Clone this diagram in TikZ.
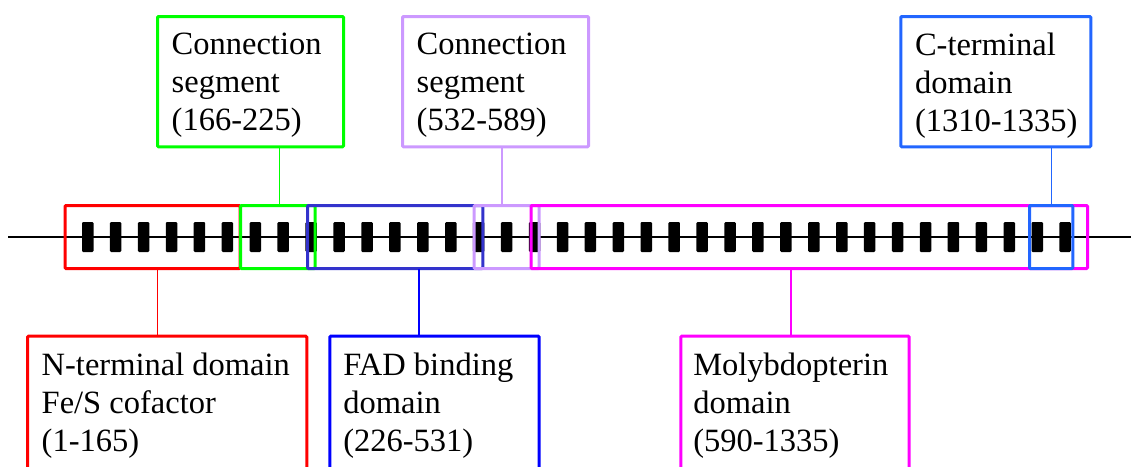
\documentclass[tikz,border=0pt]{standalone}
\usepackage{fontspec}
\setmainfont{Liberation Serif}
\definecolor{redc}{HTML}{FF0000}
\definecolor{greenc}{HTML}{00FF00}
\definecolor{barblue}{HTML}{3333CC}
\definecolor{fadblue}{HTML}{0000FF}
\definecolor{lavc}{HTML}{CC99FF}
\definecolor{magc}{HTML}{FF00FF}
\definecolor{cblue}{HTML}{2266FF}
\begin{document}
\begin{tikzpicture}[x=1pt,y=1pt,
  box/.style={draw, line width=3pt, rectangle, inner sep=0pt, outer sep=0pt, rounded corners=1pt},
  txt/.style={font=\fontsize{32.5}{38}\selectfont, align=left, inner sep=0pt, outer sep=0pt, anchor=north west},
  conn/.style={line width=1.2pt},
  tickbar/.style={fill=black, rounded corners=1.2pt}]
\useasboundingbox (0,0) rectangle (1131,-466);
\clip (0,0) rectangle (1131,-466);
% main line
\coordinate (L) at (8,-237);
\coordinate (R) at (1131,-237);
\draw[line width=1.5pt] (L) -- (R);
% ticks
\foreach \k in {0,...,35}
  \fill[tickbar] ({82+27.926*\k},-222) rectangle ++(11.5,-30);
% boxes on the bar
\node[box, draw=redc, minimum width=175pt, minimum height=63pt] (rbar) at (152.5,-237) {};
\node[box, draw=greenc, minimum width=74.5pt, minimum height=63pt] (gbar) at (277.75,-237) {};
\node[box, draw=barblue, minimum width=175.3pt, minimum height=63pt] (bbar) at (395.2,-237) {};
\node[box, draw=lavc, minimum width=65pt, minimum height=63pt] (lbar) at (506.5,-237) {};
\node[box, draw=magc, minimum width=556.5pt, minimum height=63pt] (mbar) at (809.25,-237) {};
\node[box, draw=cblue, minimum width=43.3pt, minimum height=63pt] (cbar) at (1051.2,-237) {};
% top boxes
\node[box, draw=greenc, minimum width=186pt, minimum height=130.3pt] (gtop) at (250.5,-81.65) {};
\node[box, draw=lavc, minimum width=186pt, minimum height=130.3pt] (ltop) at (495.5,-81.65) {};
\node[box, draw=cblue, minimum width=190pt, minimum height=130.3pt] (ctop) at (995.8,-81.65) {};
% bottom boxes
\node[box, draw=redc, anchor=north, minimum width=279.3pt, minimum height=170pt] (rbot) at (167.15,-336.2) {};
\node[box, draw=fadblue, anchor=north, minimum width=209.4pt, minimum height=170pt] (bbot) at (434.5,-336.2) {};
\node[box, draw=magc, anchor=north, minimum width=228.4pt, minimum height=170pt] (mbot) at (795,-336.2) {};
% connectors
\draw[conn, greenc] ([xshift=1.5pt]gbar.north) -- ([xshift=1.5pt]gbar.north |- gtop.south);
\draw[conn, lavc] ([xshift=-4.5pt]lbar.north) -- ([xshift=-4.5pt]lbar.north |- ltop.south);
\draw[conn, cblue] (cbar.north) -- (cbar.north |- ctop.south);
\draw[conn, redc] ([xshift=4.8pt]rbar.south) -- ([xshift=4.8pt]rbar.south |- rbot.north);
\draw[conn, fadblue] ([xshift=23.8pt]bbar.south) -- ([xshift=23.8pt]bbar.south |- bbot.north);
\draw[conn, magc] ([xshift=-18.25pt]mbar.south) -- ([xshift=-18.25pt]mbar.south |- mbot.north);
% texts
\node[txt] (gtxt) at (171.7,-32.8) {Connection\\segment\\(166-225)};
\node[txt] (ltxt) at (416.7,-32.8) {Connection\\segment\\(532-589)};
\node[txt] (ctxt) at (915,-32.8) {C-terminal\\domain\\(1310-1335)};
\node[txt] (rtxt) at (41.7,-352.8) {N-terminal domain\\Fe/S cofactor\\(1-165)};
\node[txt] (btxt) at (343.3,-352.8) {FAD binding\\domain\\(226-531)};
\node[txt] (mtxt) at (693.3,-352.8) {Molybdopterin\\domain\\(590-1335)};
\end{tikzpicture}
\end{document}
